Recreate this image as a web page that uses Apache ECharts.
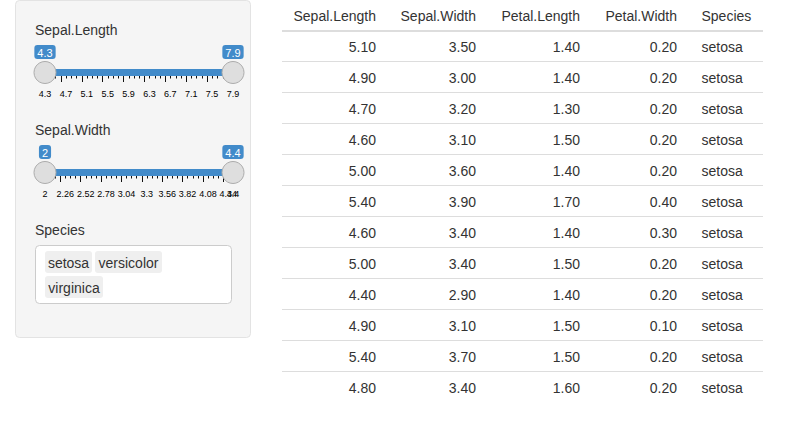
<!DOCTYPE html>
<html>
<head>
<meta charset="utf-8">
<script src="https://cdn.jsdelivr.net/npm/echarts@6/dist/echarts.min.js"></script>
<style>
  html, body { margin: 0; padding: 0; background: #fff; }
  #main { width: 800px; height: 423px; }
</style>
</head>
<body>
<div id="main"></div>
<script>
// first 12 rows of iris
const columns = ['Sepal.Length', 'Sepal.Width', 'Petal.Length', 'Petal.Width', 'Species'];
const sepalLength = [5.1, 4.9, 4.7, 4.6, 5.0, 5.4, 4.6, 5.0, 4.4, 4.9, 5.4, 4.8];
const sepalWidth = [3.5, 3.0, 3.2, 3.1, 3.6, 3.9, 3.4, 3.4, 2.9, 3.1, 3.7, 3.4];
const petalLength = [1.4, 1.4, 1.3, 1.5, 1.4, 1.7, 1.4, 1.5, 1.4, 1.5, 1.5, 1.6];
const petalWidth = [0.2, 0.2, 0.2, 0.2, 0.2, 0.4, 0.3, 0.2, 0.2, 0.1, 0.2, 0.2];
const species = ['setosa', 'setosa', 'setosa', 'setosa', 'setosa', 'setosa',
  'setosa', 'setosa', 'setosa', 'setosa', 'setosa', 'setosa'];

// filter inputs
const sepalLengthRange = [4.3, 7.9];
const sepalLengthTicks = [4.3, 4.7, 5.1, 5.5, 5.9, 6.3, 6.7, 7.1, 7.5, 7.9];
const sepalWidthRange = [2, 4.4];
const sepalWidthTicks = [2, 2.26, 2.52, 2.78, 3.04, 3.3, 3.56, 3.82, 4.08, 4.34, 4.4];
const speciesChoices = ['setosa', 'versicolor', 'virginica'];

const FONT = '"Helvetica Neue", Helvetica, "Liberation Sans", Arial, sans-serif';
const BLUE = '#428bca';

// table layout: text anchor of each column, from the grid's left edge
const colAnchor = [94, 194, 298, 395, 419.5];
const colAlign = ['right', 'right', 'right', 'right', 'left'];

// 3 small ticks between big ones, none in the short last step
function minorTicks(ticks) {
  const out = [];
  for (let i = 1; i < ticks.length; i++) {
    const a = ticks[i - 1], b = ticks[i];
    if (b - a < 0.1) continue;
    for (let k = 1; k < 4; k++) out.push(a + (b - a) * k / 4);
  }
  return out;
}

const grids = [], xAxes = [], yAxes = [], series = [];

function hiddenY(g) {
  yAxes.push({ gridIndex: g, type: 'value', min: -1, max: 1, show: false });
}

function labelAxis(g, range, vals) {
  return {
    gridIndex: g, type: 'value', min: range[0], max: range[1],
    axisLine: { show: false }, axisTick: { show: false }, splitLine: { show: false },
    axisLabel: {
      customValues: vals, fontSize: 9, color: '#000', margin: 6, fontFamily: FONT,
      showMinLabel: true, showMaxLabel: true, hideOverlap: false
    }
  };
}

function addSlider(range, ticks, top) {
  const g = grids.length;
  grids.push({ left: 45, top: top, width: 188, height: 22 });
  xAxes.push(labelAxis(g, range, ticks.slice(0, -1)));
  hiddenY(g);
  // the end label gets its own axis so it may overlap its neighbour like the original
  const e = grids.length;
  grids.push({ left: 45, top: top, width: 188, height: 22 });
  xAxes.push(labelAxis(e, range, ticks.slice(-1)));
  hiddenY(e);

  series.push({
    type: 'line', xAxisIndex: g, yAxisIndex: g, silent: true, z: 2,
    data: range.map(v => [v, 0]), symbol: 'none',
    lineStyle: { width: 7, color: BLUE, cap: 'butt' }
  });
  series.push({
    type: 'scatter', xAxisIndex: g, yAxisIndex: g, silent: true, z: 3,
    data: range.map(v => [v, 0]), symbolSize: 22,
    itemStyle: { color: '#dedede', borderColor: '#acacac', borderWidth: 1, opacity: 1 },
    label: {
      show: true, position: 'top', distance: 2,
      formatter: p => String(p.value[0]),
      color: '#fff', fontSize: 11, fontFamily: FONT,
      backgroundColor: BLUE, borderRadius: 3, padding: [2, 3, 1, 3]
    }
  });
  // the slider grid sits a few px left of the handles
  [[ticks, 7], [minorTicks(ticks), 3.5]].forEach(([vals, len]) => {
    const t = grids.length;
    grids.push({ left: 40, top: top + 8.5, width: 188, height: 10 });
    xAxes.push({
      gridIndex: t, type: 'value', min: range[0], max: range[1],
      axisLine: { show: false }, splitLine: { show: false }, axisLabel: { show: false },
      axisTick: { show: true, customValues: vals, length: len, lineStyle: { color: '#111', width: 1 } }
    });
    hiddenY(t);
  });
}

addSlider(sepalLengthRange, sepalLengthTicks, 61.5);
addSlider(sepalWidthRange, sepalWidthTicks, 161.5);

// table
const tg = grids.length;
const rowNames = ['header'].concat(sepalLength.map((v, i) => String(i + 1)));
grids.push({ left: 282, top: 0, width: 481, height: rowNames.length * 31 });
xAxes.push({ gridIndex: tg, type: 'value', min: 0, max: 481, show: false });
yAxes.push({ gridIndex: tg, type: 'category', data: rowNames, inverse: true, show: false });

function cellText(text, x, y, align) {
  return {
    type: 'text', x: x, y: y,
    style: { text: text, align: align, verticalAlign: 'middle', fill: '#333', font: '14px ' + FONT }
  };
}

series.push({
  type: 'custom', xAxisIndex: tg, yAxisIndex: tg, silent: true,
  data: [[0]],
  renderItem: (params, api) => {
    const y = api.coord([0, api.value(0)])[1];
    return {
      type: 'group',
      children: columns.map((c, k) => cellText(c, api.coord([colAnchor[k], 0])[0], y, colAlign[k]))
    };
  }
});

series.push({
  type: 'custom', xAxisIndex: tg, yAxisIndex: tg, silent: true,
  data: sepalLength.map((v, i) => [i + 1]),
  renderItem: (params, api) => {
    const i = params.dataIndex;
    const y = api.coord([0, api.value(0)])[1];
    const band = api.size([0, 1])[1];
    const top = i === 0 ? y - band / 2 : Math.round(y - band / 2) - 0.5;
    const cs = params.coordSys;
    const cells = [sepalLength[i], sepalWidth[i], petalLength[i], petalWidth[i]]
      .map(v => v.toFixed(2)).concat(species[i]);
    const children = [{
      type: 'line',
      shape: { x1: cs.x, y1: top, x2: cs.x + cs.width, y2: top },
      style: { stroke: '#ddd', lineWidth: i === 0 ? 2 : 1 }
    }];
    cells.forEach((t, k) => children.push(cellText(t, api.coord([colAnchor[k], 0])[0], y, colAlign[k])));
    return { type: 'group', children: children };
  }
});

// sidebar panel, labels and the species picker
const tagBoxes = [[45, 251, 47], [95, 251, 67], [45, 276, 58]];
const label = (text, y) => ({
  type: 'text', x: 35, y: y,
  style: { text: text, font: '14px ' + FONT, fill: '#333', verticalAlign: 'middle' }
});
const graphic = [
  {
    type: 'rect', z: -10,
    shape: { x: 15.5, y: 0.5, width: 235, height: 337, r: 4 },
    style: { fill: '#f5f5f5', stroke: '#e3e3e3', lineWidth: 1 }
  },
  label('Sepal.Length', 30),
  label('Sepal.Width', 130),
  label('Species', 230),
  {
    type: 'rect', z: -9,
    shape: { x: 35.5, y: 245.5, width: 196, height: 58, r: 4 },
    style: { fill: '#fff', stroke: '#ccc', lineWidth: 1 }
  }
];
speciesChoices.forEach((s, k) => {
  const [x, y, w] = tagBoxes[k];
  graphic.push({
    type: 'rect', z: -8, shape: { x: x, y: y, width: w, height: 22, r: 3 },
    style: { fill: '#efefef' }
  });
  graphic.push({
    type: 'text', x: x + w / 2, y: y + 11.5,
    style: { text: s, font: '14px ' + FONT, fill: '#333', align: 'center', verticalAlign: 'middle' }
  });
});

const chart = echarts.init(document.getElementById('main'), null, { renderer: 'svg' });
chart.setOption({
  animation: false,
  grid: grids,
  xAxis: xAxes,
  yAxis: yAxes,
  graphic: graphic,
  series: series
});
</script>
</body>
</html>
